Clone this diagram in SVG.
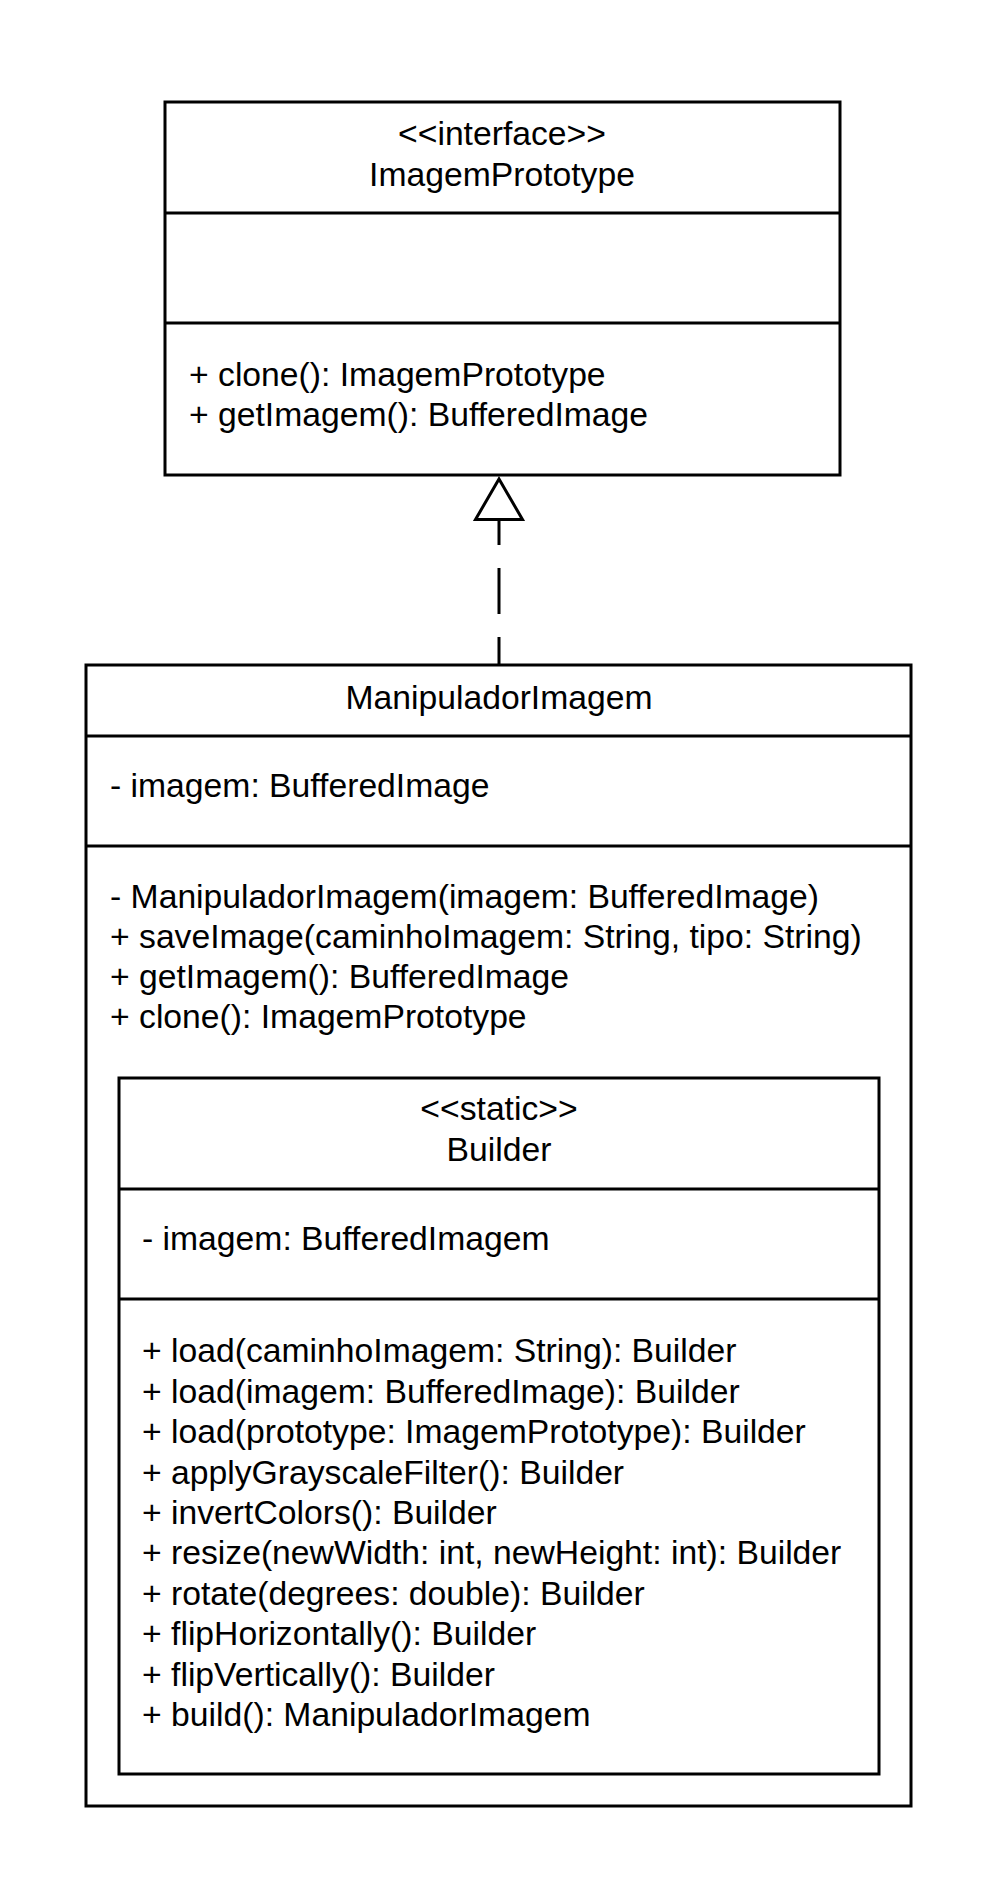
<svg xmlns="http://www.w3.org/2000/svg" width="994" height="1884" viewBox="0 0 994 1884">
<style>
.box{fill:#fff;stroke:#000;stroke-width:3}
.div{stroke:#000;stroke-width:3;fill:none}
.t{font-family:"Liberation Sans",Arial,sans-serif;font-size:33.7px;fill:#000}
.c{text-anchor:middle}
.edge{stroke:#000;stroke-width:3;fill:none}
.head{fill:#fff;stroke:#000;stroke-width:3;stroke-linejoin:miter}
</style>
<rect width="994" height="1884" fill="#fff"/>
<g id="ImagemPrototype">
<rect class="box" x="165" y="102" width="675" height="373"/>
<line class="div" x1="165" y1="213" x2="840" y2="213"/>
<line class="div" x1="165" y1="323" x2="840" y2="323"/>
<text class="t c" x="502" y="145">&lt;&lt;interface&gt;&gt;</text>
<text class="t c" x="502" y="186">ImagemPrototype</text>
<text class="t" x="189" y="386">+ clone(): ImagemPrototype</text>
<text class="t" x="189" y="426">+ getImagem(): BufferedImage</text>
</g>
<g id="ManipuladorImagem">
<rect class="box" x="86" y="665" width="825" height="1141"/>
<line class="div" x1="86" y1="736" x2="911" y2="736"/>
<line class="div" x1="86" y1="846" x2="911" y2="846"/>
<text class="t c" x="499" y="709">ManipuladorImagem</text>
<text class="t" x="110" y="797">- imagem: BufferedImage</text>
<text class="t" x="110" y="908">- ManipuladorImagem(imagem: BufferedImage)</text>
<text class="t" x="110" y="948">+ saveImage(caminhoImagem: String, tipo: String)</text>
<text class="t" x="110" y="988">+ getImagem(): BufferedImage</text>
<text class="t" x="110" y="1028">+ clone(): ImagemPrototype</text>
</g>
<g id="Builder">
<rect class="box" x="119" y="1078" width="760" height="696"/>
<line class="div" x1="119" y1="1189" x2="879" y2="1189"/>
<line class="div" x1="119" y1="1299" x2="879" y2="1299"/>
<text class="t c" x="499" y="1120">&lt;&lt;static&gt;&gt;</text>
<text class="t c" x="499" y="1161">Builder</text>
<text class="t" x="142" y="1250">- imagem: BufferedImagem</text>
<text class="t" x="142" y="1362">+ load(caminhoImagem: String): Builder</text>
<text class="t" x="142" y="1402.5">+ load(imagem: BufferedImage): Builder</text>
<text class="t" x="142" y="1443">+ load(prototype: ImagemPrototype): Builder</text>
<text class="t" x="142" y="1483.5">+ applyGrayscaleFilter(): Builder</text>
<text class="t" x="142" y="1524">+ invertColors(): Builder</text>
<text class="t" x="142" y="1564">+ resize(newWidth: int, newHeight: int): Builder</text>
<text class="t" x="142" y="1604.5">+ rotate(degrees: double): Builder</text>
<text class="t" x="142" y="1645">+ flipHorizontally(): Builder</text>
<text class="t" x="142" y="1685.5">+ flipVertically(): Builder</text>
<text class="t" x="142" y="1726">+ build(): ManipuladorImagem</text>
</g>
<g id="connectors">
<path class="edge" d="M499,521 V545 M499,568 V614 M499,637 V664"/>
<path class="head" d="M499,479 L522.5,519.5 L475.5,519.5 Z"/>
</g>
</svg>
